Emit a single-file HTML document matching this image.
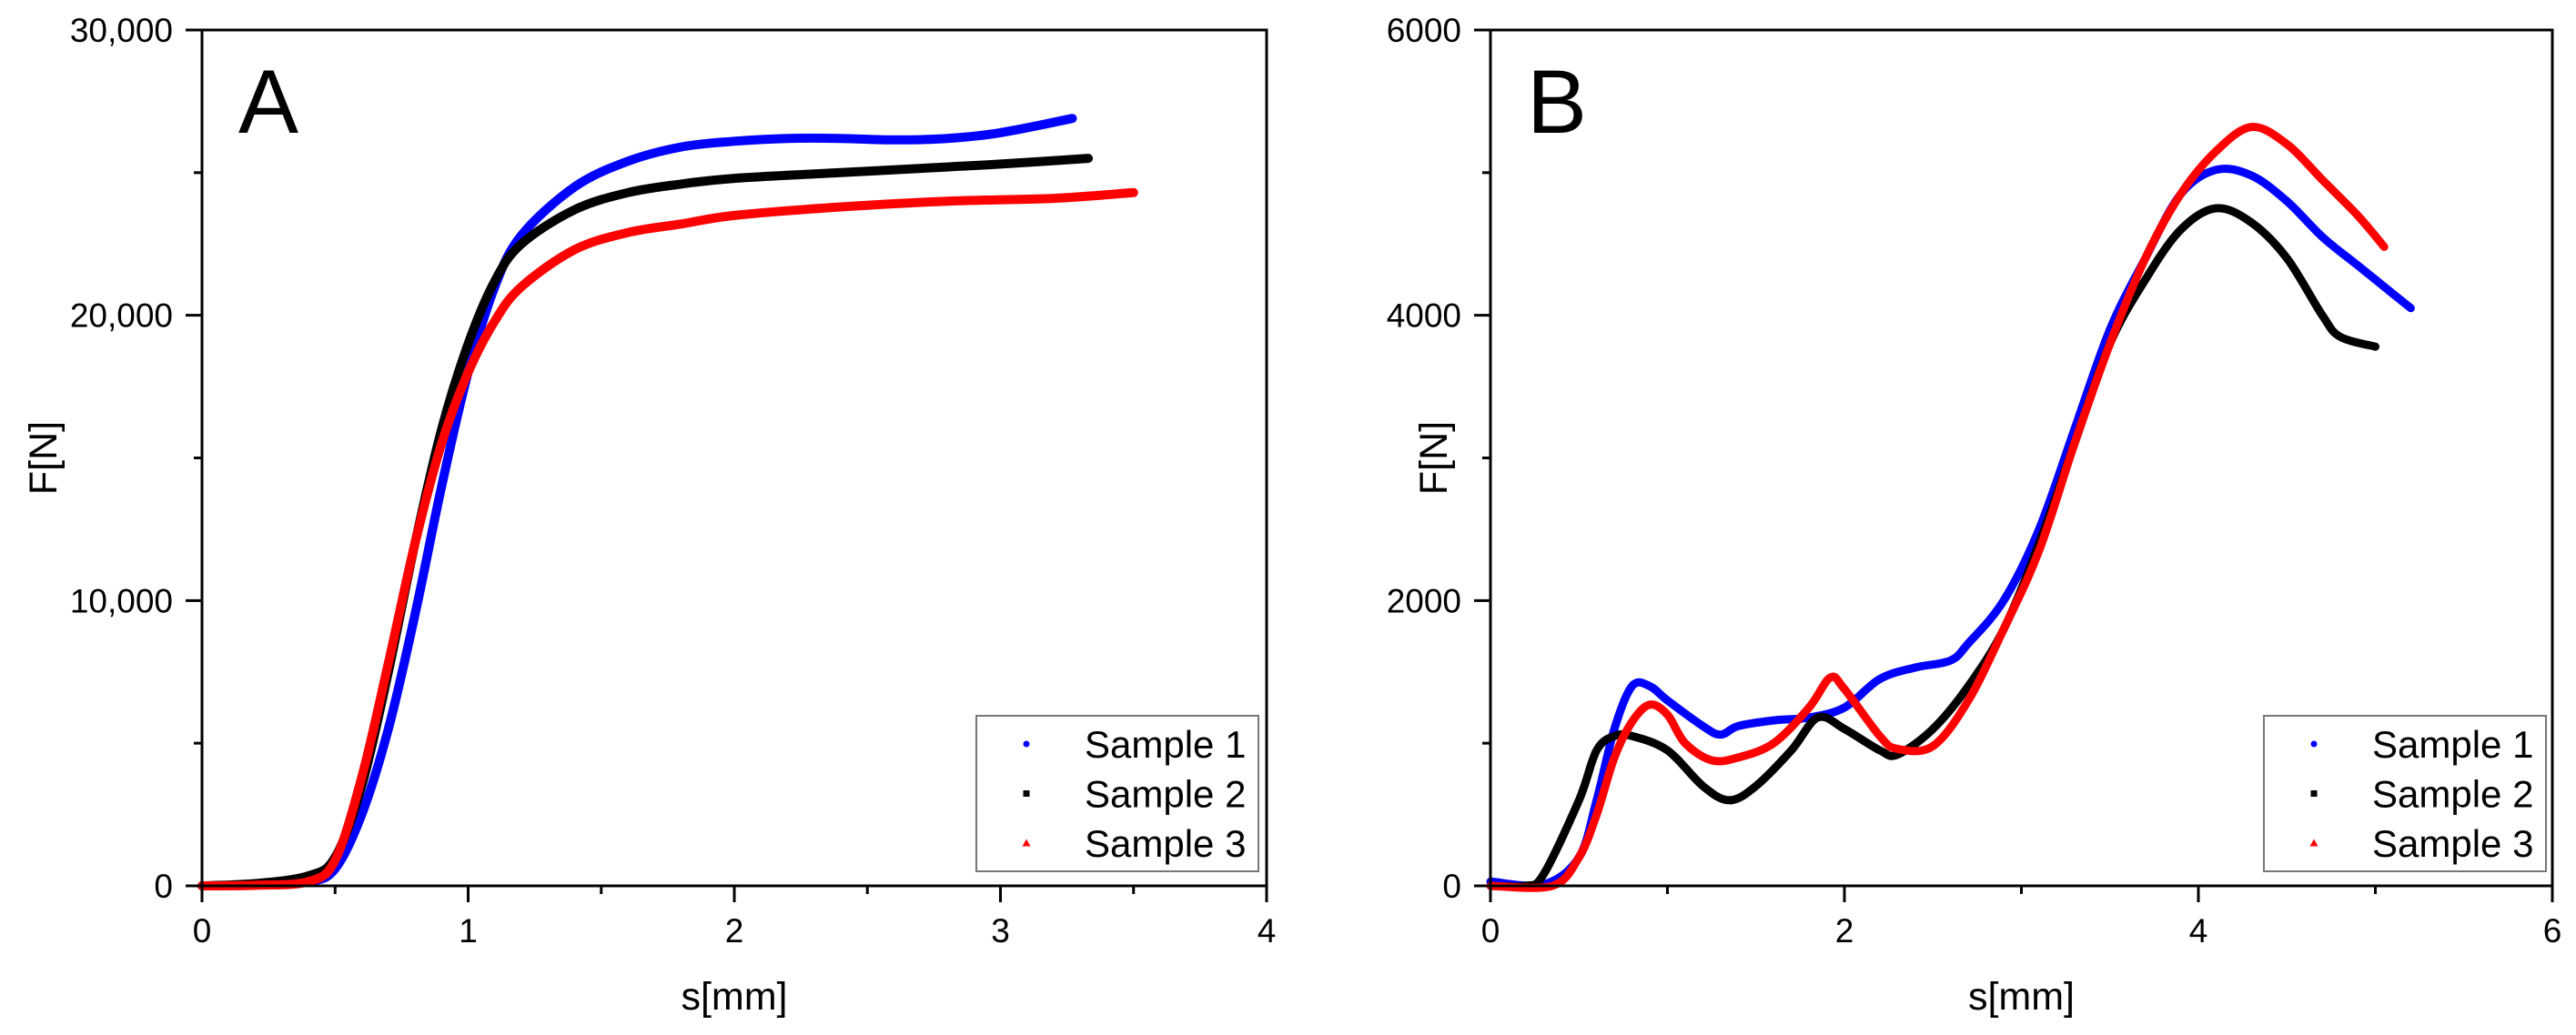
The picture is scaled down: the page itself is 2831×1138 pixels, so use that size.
<!DOCTYPE html>
<html><head><meta charset="utf-8"><style>
html,body{margin:0;padding:0;background:#fff}
svg{display:block;font-family:"Liberation Sans",Arial,sans-serif}
</style></head><body>
<svg id="svg" width="2831" height="1138" viewBox="0 0 2831 1138" xmlns="http://www.w3.org/2000/svg"></svg>
<script>
// Panel A data
const aXTicks = [0,1,2,3,4];
const aYTicks = [0,10000,20000,30000];
const aYTickLabels = ["0","10,000","20,000","30,000"];
const aS1x = [0,0.2,0.4,0.5,0.6,0.7,0.8,0.9,1.0,1.1,1.2,1.4,1.6,1.8,2.0,2.2,2.4,2.6,2.8,3.0,3.27];
const aS1y = [0,30,150,600,2500,5500,9500,14000,18000,21000,22800,24500,25400,25900,26100,26200,26200,26150,26200,26400,26900];
const aS2x = [0,0.2,0.4,0.5,0.6,0.7,0.8,0.9,1.0,1.1,1.2,1.4,1.6,1.8,2.0,2.4,2.8,3.0,3.33];
const aS2y = [0,80,350,1000,3500,7500,12000,16000,19000,21200,22500,23700,24300,24600,24800,25000,25200,25300,25500];
const aS3x = [0,0.2,0.4,0.5,0.6,0.7,0.8,0.9,1.0,1.1,1.2,1.4,1.6,1.8,2.0,2.4,2.8,3.2,3.5];
const aS3y = [0,20,150,900,3800,7800,12000,15500,18000,19800,21000,22300,22900,23200,23500,23800,24000,24100,24300];
// Panel B data
const bXTicks = [0,2,4,6];
const bYTicks = [0,2000,4000,6000];
const bYTickLabels = ["0","2000","4000","6000"];
const bS1x = [0,0.3,0.5,0.6,0.7,0.8,0.9,1.0,1.2,1.3,1.4,1.6,1.8,2.0,2.2,2.4,2.6,2.7,2.9,3.1,3.3,3.5,3.7,3.9,4.1,4.3,4.5,4.7,4.9,5.1,5.2];
const bS1y = [30,10,200,600,1100,1400,1400,1300,1120,1060,1120,1160,1180,1250,1450,1530,1580,1700,2000,2500,3200,3900,4400,4850,5020,4980,4800,4550,4350,4150,4050];
const bS2x = [0,0.2,0.3,0.5,0.6,0.7,0.8,1.0,1.2,1.35,1.5,1.7,1.85,2.0,2.2,2.3,2.5,2.7,2.9,3.1,3.3,3.5,3.7,3.9,4.1,4.3,4.5,4.7,4.8,5.0];
const bS2y = [0,0,80,600,950,1050,1050,950,700,600,700,950,1180,1100,950,920,1100,1400,1800,2400,3100,3800,4250,4600,4750,4650,4400,4000,3850,3780];
const bS3x = [0,0.35,0.5,0.6,0.7,0.8,0.9,1.0,1.1,1.25,1.4,1.6,1.8,1.92,2.0,2.2,2.3,2.5,2.7,2.9,3.1,3.3,3.5,3.7,3.9,4.1,4.3,4.5,4.7,4.9,5.05];
const bS3y = [0,0,200,500,900,1150,1270,1200,1000,880,900,1000,1250,1460,1380,1050,960,980,1300,1800,2350,3100,3800,4400,4850,5150,5320,5200,4950,4700,4480];
const seriesNames = ["Sample 1","Sample 2","Sample 3"];
const seriesColors = ["#0000ff","#000000","#ff0000"];

const NS="http://www.w3.org/2000/svg";
const svg=document.getElementById('svg');
function mk(tag,attrs,parent){const e=document.createElementNS(NS,tag);for(const k in attrs)e.setAttribute(k,attrs[k]);(parent||svg).appendChild(e);return e;}
function smooth(pts){
  let d='M'+pts[0][0].toFixed(1)+','+pts[0][1].toFixed(1);
  for(let i=0;i<pts.length-1;i++){
    const p0=pts[Math.max(0,i-1)],p1=pts[i],p2=pts[i+1],p3=pts[Math.min(pts.length-1,i+2)];
    const c1=[p1[0]+(p2[0]-p0[0])/6,p1[1]+(p2[1]-p0[1])/6];
    const c2=[p2[0]-(p3[0]-p1[0])/6,p2[1]-(p3[1]-p1[1])/6];
    d+='C'+c1[0].toFixed(1)+','+c1[1].toFixed(1)+' '+c2[0].toFixed(1)+','+c2[1].toFixed(1)+' '+p2[0].toFixed(1)+','+p2[1].toFixed(1);
  }
  return d;
}

function panel(cfg){
  const g=mk('g',{});
  
  
  const L=cfg.L,R=cfg.R,T=33,B=974;
  const sx=v=>L+(v-cfg.xmin)/(cfg.xmax-cfg.xmin)*(R-L);
  const sy=v=>B-(v-cfg.ymin)/(cfg.ymax-cfg.ymin)*(B-T);
  cfg.series.forEach((s,i)=>{
    const pts=s.x.map((xv,j)=>[sx(xv),sy(s.y[j])]);
    const p=mk('path',{d:smooth(pts),fill:'none',stroke:seriesColors[i],'stroke-width':cfg.sw,'stroke-linejoin':'round','stroke-linecap':'round'},g);
    
    
  });
  const fr=mk('rect',{x:L,y:T,width:R-L,height:B-T,fill:'none',stroke:'#000','stroke-width':3},g);
  
  
  cfg.xTicks.forEach((t,k)=>{
    const x=sx(t);
    mk('line',{x1:x,y1:B,x2:x,y2:B+18,stroke:'#000','stroke-width':3},g);
    if(k<cfg.xTicks.length-1){const xm=sx((t+cfg.xTicks[k+1])/2);mk('line',{x1:xm,y1:B,x2:xm,y2:B+9,stroke:'#000','stroke-width':3},g);}
    const tx=mk('text',{x:x,y:1036,'text-anchor':'middle','font-size':37},g);tx.textContent=String(t);
    
    
  });
  cfg.yTicks.forEach((t,k)=>{
    const y=sy(t);
    mk('line',{x1:L-18,y1:y,x2:L,y2:y,stroke:'#000','stroke-width':3},g);
    if(k<cfg.yTicks.length-1){const ym=sy((t+cfg.yTicks[k+1])/2);mk('line',{x1:L-9,y1:ym,x2:L,y2:ym,stroke:'#000','stroke-width':3},g);}
    const tx=mk('text',{x:L-32,y:y+13,'text-anchor':'end','font-size':37},g);tx.textContent=cfg.yLabels[k];
    
    
  });
  const xl=mk('text',{x:(L+R)/2,y:1110,'text-anchor':'middle','font-size':43},g);xl.textContent='s[mm]';
  
  
  const yl=mk('text',{x:cfg.yLabX,y:(T+B)/2,'text-anchor':'middle','font-size':43,transform:'rotate(-90 '+cfg.yLabX+' '+(T+B)/2+')'},g);yl.textContent='F[N]';
  
  
  const pl=mk('text',{x:L+40,y:146,'font-size':99},g);pl.textContent=cfg.letter;
  
  
  const lg=mk('g',{},g);
  
  
  const lx=cfg.legX;
  mk('rect',{x:lx,y:787,width:310,height:171,fill:'#fff',stroke:'#777','stroke-width':2},lg);
  seriesNames.forEach((n,i)=>{
    const cy=818+i*54.5;
    const e=mk('g',{},lg);
    
    
    const mxx=lx+55;
    if(i==0) mk('circle',{cx:mxx,cy:cy,r:3.5,fill:seriesColors[i]},e);
    else if(i==1) mk('rect',{x:mxx-3.5,y:cy-3.5,width:7,height:7,fill:seriesColors[i]},e);
    else mk('polygon',{points:(mxx-4.5)+','+(cy+3.5)+' '+(mxx+4.5)+','+(cy+3.5)+' '+mxx+','+(cy-4.5),fill:seriesColors[i]},e);
    const t=mk('text',{x:lx+119,y:cy+15,'font-size':42},e);t.textContent=n;
  });
}
panel({id:'panel-a',letter:'A',L:222,R:1392,xmin:0,xmax:4,ymin:0,ymax:30000,xTicks:aXTicks,yTicks:aYTicks,yLabels:aYTickLabels,yLabX:62,legX:1073,sw:10,
  series:[{x:aS1x,y:aS1y},{x:aS2x,y:aS2y},{x:aS3x,y:aS3y}]});
panel({id:'panel-b',letter:'B',L:1638,R:2805,xmin:0,xmax:6,ymin:0,ymax:6000,xTicks:bXTicks,yTicks:bYTicks,yLabels:bYTickLabels,yLabX:1590,legX:2488,sw:9,
  series:[{x:bS1x,y:bS1y},{x:bS2x,y:bS2y},{x:bS3x,y:bS3y}]});
</script>
</body></html>
